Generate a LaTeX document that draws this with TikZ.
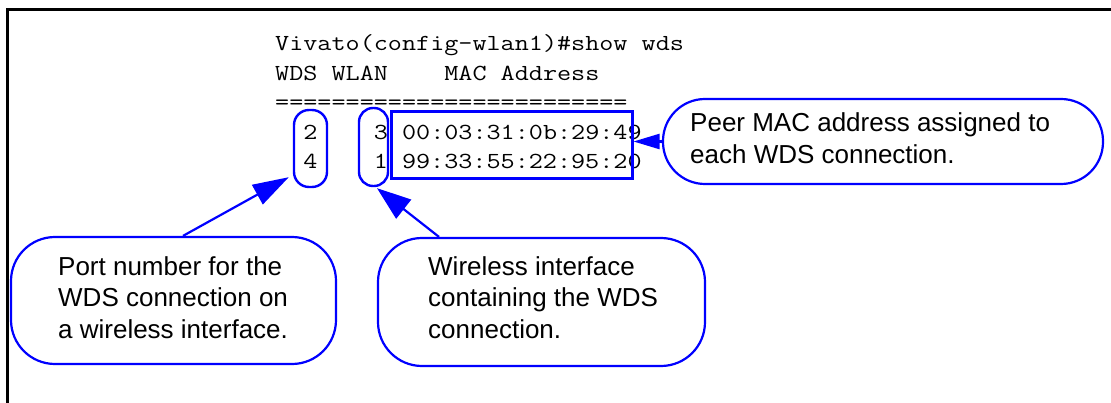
\documentclass[tikz,border=0pt]{standalone}
\usepackage{fontspec}
\setmainfont{Liberation Sans}
\usepackage{graphicx}
\usetikzlibrary{arrows.meta}
% terminal output is set in a wide typewriter face
\newcommand{\cli}[1]{\scalebox{1.19}[1]{#1}}
\begin{document}
\begin{tikzpicture}[x=1pt,y=-1pt,
  terminal/.style={anchor=base west, inner sep=0pt, font=\fontsize{23}{29}\selectfont\ttfamily},
  ring/.style={draw=blue, line width=2.4pt, rounded corners=15pt, inner sep=0pt},
  macframe/.style={draw=blue, line width=3pt, inner sep=0pt},
  callout/.style={draw=blue, line width=2.2pt, inner sep=0pt},
  note/.style={anchor=north west, inner sep=0pt, align=left, font=\fontsize{26}{31.5}\selectfont},
  pointer/.style={draw=blue, line width=2.2pt, -{Triangle[length=36pt,width=22pt]}}
]
\useasboundingbox (0,0) rectangle (1111,403);

% open frame: top and left edges
\draw[line width=3pt] (7,403) -- (7,9.5) -- (1111,9.5);

% command output
\node[terminal] (prompt) at (275,51)    {\cli{Vivato(config-wlan1)\#show wds}};
\node[terminal] (header) at (275,80.5)  {\cli{WDS WLAN~~~~MAC Address}};
\node[terminal] (sep)    at (275,110)   {\cli{=========================}};
\node[terminal] (row1)   at (275,139.5) {\cli{~~2~~~~3~00:03:31:0b:29:49}};
\node[terminal] (row2)   at (275,169)   {\cli{~~4~~~~1~99:33:55:22:95:20}};

% highlighted columns
\node[ring, minimum width=33pt, minimum height=77pt] (portcol) at (310.5,148.5) {};
\node[ring, minimum width=29pt, minimum height=78pt, rounded corners=14pt] (wlancol) at (373.5,147) {};
\node[macframe, minimum width=241pt, minimum height=67pt] (macbox) at (511.5,145.5) {};

% callouts
\node[callout, minimum width=440pt, minimum height=85pt, rounded corners=42pt] (peer) at (883,141.5) {};
\node[callout, minimum width=325pt, minimum height=127pt, rounded corners=44pt] (port) at (173.5,300.5) {};
\node[callout, minimum width=327pt, minimum height=128pt, rounded corners=44pt] (wlan) at (541.5,302) {};

\node[note] (peertext) at (690,111.7) {\rule{0pt}{20pt}Peer MAC address assigned to\\each WDS connection.};
\node[note] (porttext) at (58,255)    {\rule{0pt}{20pt}Port number for the\\WDS connection on\\a wireless interface.};
\node[note] (wlantext) at (428,255)   {\rule{0pt}{20pt}Wireless interface\\containing the WDS\\connection.};

% pointers
\draw[pointer] ([shift={(9.5,0)}]port.north) -- ([shift={(-4,-11)}]portcol.south west);
\draw[pointer, -{Triangle[length=34pt,width=24pt]}] ([shift={(-102.5,0)}]wlan.north) -- ([shift={(3.5,1)}]wlancol.south);
\draw[pointer, -{Triangle[length=26pt,width=15pt]}] (peer.west) -- (peer.west -| macbox.east);
\end{tikzpicture}
\end{document}
